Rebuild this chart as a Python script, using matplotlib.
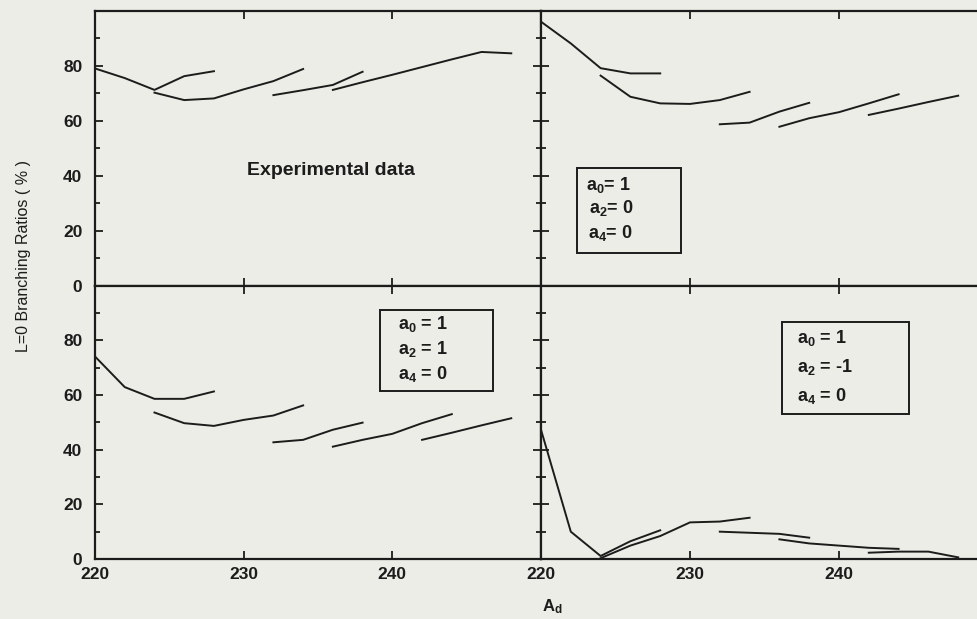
import matplotlib
matplotlib.use("Agg")
import matplotlib.pyplot as plt

plt.rcParams['font.family'] = ['Liberation Sans', 'DejaVu Sans']
plt.rcParams['font.weight'] = 'bold'
plt.rcParams['mathtext.fontset'] = 'custom'
plt.rcParams['mathtext.rm'] = 'Liberation Sans:bold'
plt.rcParams['mathtext.it'] = 'Liberation Sans:italic:bold'

# isotopic chains, A_d values
x_c1 = [220, 222, 224, 226, 228]
x_c2 = [224, 226, 228, 230, 232, 234]
x_c3 = [232, 234, 236, 238]
x_c4 = [236, 238, 240, 242, 244]
x_c4_exp = [236, 238, 240, 242, 244, 246, 248]
x_c5 = [242, 244, 246, 248]

# experimental data (top left)
exp_c1 = [79, 75.5, 71.2, 76.2, 78]
exp_c2 = [70.2, 67.5, 68.1, 71.4, 74.4, 78.8]
exp_c3 = [69.3, 71.1, 73.0, 77.8]
exp_c4 = [71.2, 74.0, 76.7, 79.5, 82.3, 85.0, 84.5]

# a0=1, a2=0, a4=0 (top right)
m1_c1 = [96, 88.1, 79.1, 77.2, 77.2]
m1_c2 = [76.4, 68.7, 66.3, 66.1, 67.5, 70.5]
m1_c3 = [58.7, 59.3, 63.3, 66.5]
m1_c4 = [57.8, 60.9, 63.1, 66.3, 69.6]
m1_c5 = [62.1, 64.4, 66.8, 69.1]

# a0=1, a2=1, a4=0 (bottom left)
m2_c1 = [74.1, 62.9, 58.6, 58.6, 61.3]
m2_c2 = [53.6, 49.7, 48.7, 50.9, 52.5, 56.2]
m2_c3 = [42.7, 43.6, 47.3, 49.9]
m2_c4 = [41.1, 43.6, 45.8, 49.7, 53.0]
m2_c5 = [43.6, 46.2, 48.9, 51.5]

# a0=1, a2=-1, a4=0 (bottom right)
m3_c1 = [47.3, 10.0, 1.1, 6.5, 10.5]
m3_c2 = [0.3, 4.9, 8.4, 13.4, 13.7, 15.1]
m3_c3 = [10.0, 9.6, 9.2, 7.8]
m3_c4 = [7.2, 5.7, 4.9, 4.1, 3.7]
m3_c5 = [2.3, 2.7, 2.7, 0.6]

bg = '#ecede6'
ink = '#1c1c1c'

fig = plt.figure(figsize=(9.78, 6.19), dpi=100, facecolor=bg)
L, M, R = 95 / 978, 541 / 978, 988 / 978
T, C, B = 1 - 10.7 / 619, 1 - 285.7 / 619, 1 - 559 / 619
ax_tl = fig.add_axes([L, C, M - L, T - C])
ax_tr = fig.add_axes([M, C, R - M, T - C])
ax_bl = fig.add_axes([L, B, M - L, C - B])
ax_br = fig.add_axes([M, B, R - M, C - B])

panels = [
    (ax_tl, [(x_c1, exp_c1), (x_c2, exp_c2), (x_c3, exp_c3), (x_c4_exp, exp_c4)]),
    (ax_tr, [(x_c1, m1_c1), (x_c2, m1_c2), (x_c3, m1_c3), (x_c4, m1_c4), (x_c5, m1_c5)]),
    (ax_bl, [(x_c1, m2_c1), (x_c2, m2_c2), (x_c3, m2_c3), (x_c4, m2_c4), (x_c5, m2_c5)]),
    (ax_br, [(x_c1, m3_c1), (x_c2, m3_c2), (x_c3, m3_c3), (x_c4, m3_c4), (x_c5, m3_c5)]),
]

for ax, chains in panels:
    ax.set_facecolor(bg)
    for xs, ys in chains:
        ax.plot(xs, ys, color=ink, lw=1.4)
    ax.set_xlim(220, 250)
    ax.set_ylim(0, 100)
    ax.set_xticks([220, 230, 240, 250])
    ax.set_yticks([0, 20, 40, 60, 80, 100])
    ax.set_yticks(range(10, 100, 20), minor=True)
    ax.tick_params(which='both', direction='in', top=True, right=True,
                   color=ink, labelsize=12.5, labelcolor=ink, width=1.3)
    ax.tick_params(which='major', length=6)
    ax.tick_params(which='minor', length=3.5)
    ax.tick_params(axis='y', pad=9)
    ax.tick_params(axis='x', pad=6)
    for s in ax.spines.values():
        s.set_linewidth(1.6)
        s.set_color(ink)

for ax in (ax_tl, ax_tr):
    ax.tick_params(labelbottom=False)
for ax in (ax_tr, ax_br):
    ax.tick_params(labelleft=False)
for ax in (ax_bl, ax_br):
    ax.set_xticklabels(['220', '230', '240', ''])
for ax in (ax_tl, ax_bl):
    ax.set_yticklabels(['0', '20', '40', '60', '80', ''])

ax_tl.text(235.9, 41.8, 'Experimental data', fontsize=14, color=ink,
           ha='center', va='center')


def param_box(ax, x0, y0, x1, y1, lines, tx, tys):
    ax.add_patch(plt.Rectangle((x0, y0), x1 - x0, y1 - y0, fill=False,
                               ec=ink, lw=1.4, zorder=3))
    for (s, dx), ty in zip(lines, tys):
        ax.text(tx + dx, ty, s, fontsize=13, color=ink, ha='left', va='center')


param_box(ax_tr, 222.4, 11.8, 229.4, 42.7,
          [(r'$\mathregular{a_0}$= 1', 0), (r'$\mathregular{a_2}$= 0', 0.25),
           (r'$\mathregular{a_4}$= 0', 0.15)],
          223.0, [36.5, 28.2, 19.1])
param_box(ax_bl, 239.2, 61.6, 246.8, 91.0,
          [(r'$\mathregular{a_0}$ = 1', 0), (r'$\mathregular{a_2}$ = 1', 0),
           (r'$\mathregular{a_4}$ = 0', 0)],
          240.4, [86.0, 77.0, 67.8])
param_box(ax_br, 236.2, 53.1, 244.7, 86.9,
          [(r'$\mathregular{a_0}$ = 1', 0), (r'$\mathregular{a_2}$ = -1', 0),
           (r'$\mathregular{a_4}$ = 0', 0)],
          237.2, [80.8, 70.2, 59.7])

fig.text(24 / 978, 1 - 256 / 619, 'L=0 Branching Ratios ( % )', rotation=90,
         fontsize=11.5, fontweight='normal', color=ink, ha='center', va='center')
fig.text(552 / 978, 1 - 607 / 619, r'$\mathregular{A_d}$', fontsize=12,
         color=ink, ha='center', va='center')

fig.savefig('out.png', dpi=100, facecolor=bg)
